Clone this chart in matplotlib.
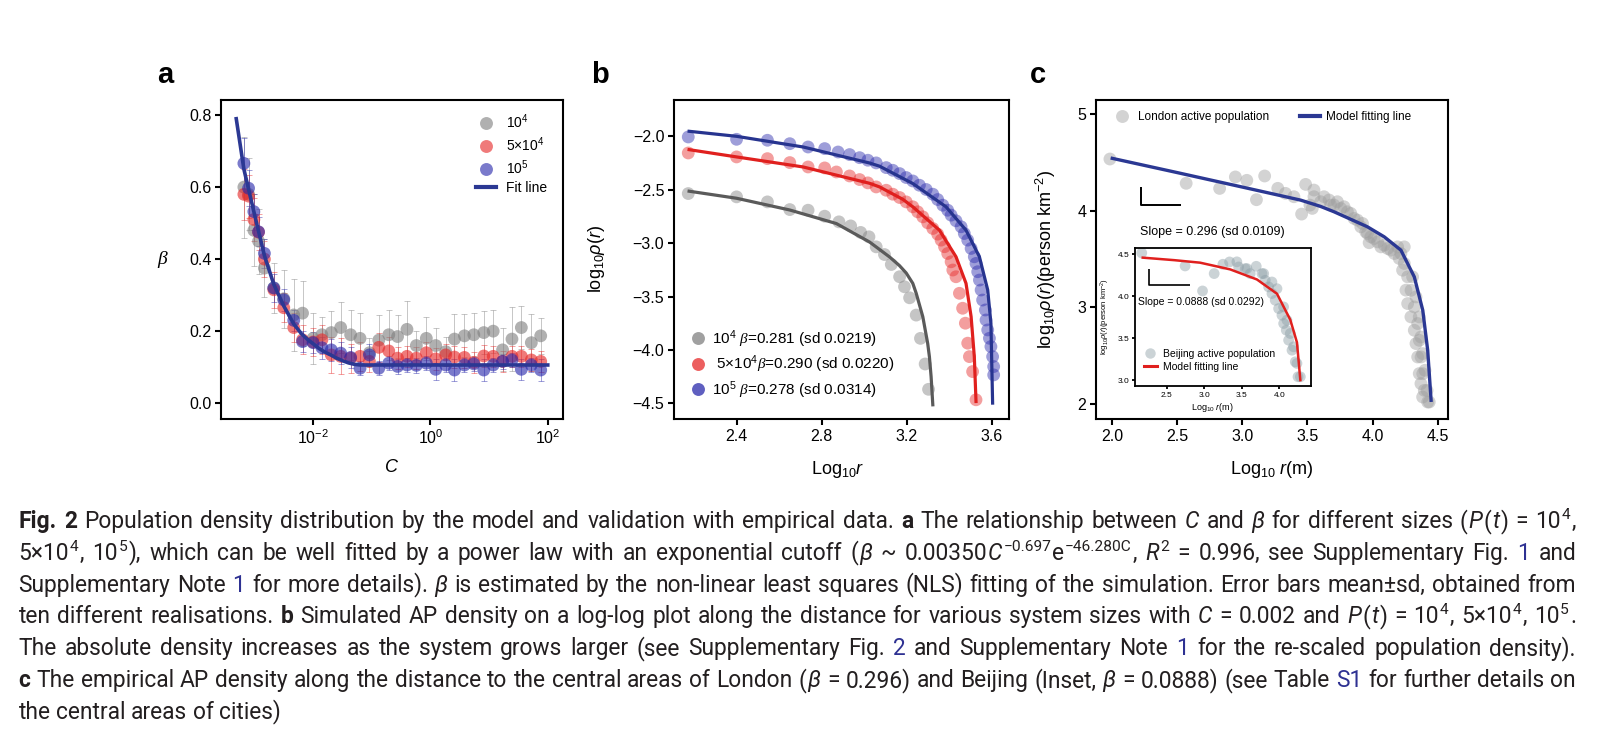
import re
import numpy as np
import matplotlib
matplotlib.use("Agg")
import matplotlib.pyplot as plt
from matplotlib.lines import Line2D
from matplotlib.ticker import NullLocator, FormatStrFormatter

plt.rcParams.update({
    'font.family': ['Liberation Sans', 'DejaVu Sans'],
    'mathtext.fontset': 'custom',
    'mathtext.rm': 'Liberation Sans',
    'mathtext.it': 'Liberation Sans:italic',
    'mathtext.bf': 'Liberation Sans:bold',
    'mathtext.cal': 'Liberation Serif:italic',
    'mathtext.fallback': 'stix',
    'axes.unicode_minus': True,
})

# ---------------- data: panel a ----------------
C_log10 = [-3.18, -3.10, -3.01, -2.93, -2.83, -2.67, -2.50, -2.33, -2.18, -2.00,
           -1.85, -1.69, -1.53, -1.36, -1.20, -1.04, -0.88, -0.71, -0.56, -0.40,
           -0.24, -0.07, 0.09, 0.26, 0.41, 0.58, 0.74, 0.91, 1.07, 1.23,
           1.39, 1.55, 1.72, 1.88]
beta_1e4 = [0.60, 0.58, 0.48, 0.45, 0.375, 0.32, 0.29, 0.245, 0.25, 0.18,
            0.19, 0.196, 0.21, 0.19, 0.18, 0.14, 0.175, 0.19, 0.185, 0.205,
            0.16, 0.18, 0.16, 0.143, 0.178, 0.187, 0.19, 0.196, 0.20, 0.148,
            0.178, 0.21, 0.168, 0.187]
sd_1e4 = [0.14, 0.10, 0.10, 0.09, 0.08, 0.07, 0.08, 0.10, 0.09, 0.07,
          0.05, 0.06, 0.07, 0.07, 0.07, 0.04, 0.07, 0.07, 0.06, 0.08,
          0.04, 0.06, 0.05, 0.04, 0.07, 0.06, 0.06, 0.06, 0.06, 0.06,
          0.09, 0.06, 0.08, 0.05]
beta_5e4 = [0.58, 0.575, 0.51, 0.475, 0.40, 0.315, 0.265, 0.21, 0.176, 0.17,
            0.176, 0.134, 0.13, 0.125, 0.13, 0.116, 0.155, 0.145, 0.125, 0.13,
            0.125, 0.14, 0.123, 0.134, 0.128, 0.127, 0.113, 0.131, 0.13, 0.116,
            0.13, 0.13, 0.12, 0.116]
sd_5e4 = [0.07, 0.06, 0.06, 0.05, 0.05, 0.05, 0.04, 0.04, 0.04, 0.04,
          0.04, 0.05, 0.05, 0.04, 0.04, 0.03, 0.04, 0.04, 0.03, 0.03,
          0.03, 0.03, 0.03, 0.03, 0.03, 0.03, 0.03, 0.03, 0.03, 0.03,
          0.03, 0.03, 0.03, 0.03]
beta_1e5 = [0.666, 0.597, 0.532, 0.476, 0.416, 0.32, 0.287, 0.23, 0.171, 0.168,
            0.154, 0.148, 0.139, 0.127, 0.097, 0.134, 0.097, 0.111, 0.102, 0.106,
            0.105, 0.111, 0.094, 0.106, 0.092, 0.106, 0.109, 0.092, 0.106, 0.116,
            0.12, 0.094, 0.106, 0.092]
sd_1e5 = [0.07, 0.05, 0.05, 0.04, 0.04, 0.04, 0.03, 0.03, 0.03, 0.03,
          0.03, 0.03, 0.03, 0.03, 0.02, 0.03, 0.02, 0.02, 0.02, 0.02,
          0.02, 0.02, 0.03, 0.02, 0.03, 0.02, 0.02, 0.03, 0.02, 0.02,
          0.02, 0.03, 0.02, 0.03]
fit_logC = [-3.31, -3.18, -3.00, -2.83, -2.67, -2.50, -2.33, -2.20, -2.10, -2.00,
            -1.90, -1.80, -1.70, -1.60, -1.50, -1.40, -1.30, -1.20, 2.00]
fit_beta = [0.79, 0.65, 0.525, 0.41, 0.33, 0.27, 0.22, 0.193, 0.178, 0.165,
            0.152, 0.142, 0.134, 0.125, 0.118, 0.112, 0.108, 0.106, 0.106]
a_labels = ['$10^4$', '5×10$^4$', '$10^5$', 'Fit line']

# ---------------- data: panel b ----------------
b_gray_x = [2.173, 2.400, 2.545, 2.650, 2.736, 2.814, 2.881, 2.936, 2.983, 3.022,
            3.056, 3.095, 3.127, 3.166, 3.189, 3.213, 3.244, 3.264, 3.286, 3.302]
b_gray_y = [-2.536, -2.567, -2.614, -2.686, -2.692, -2.748, -2.801, -2.839, -2.900, -2.941,
            -3.035, -3.107, -3.200, -3.315, -3.409, -3.512, -3.674, -3.892, -4.132, -4.369]
b_red_x = [2.173, 2.400, 2.545, 2.650, 2.736, 2.814, 2.869, 2.931, 2.978, 3.017,
           3.056, 3.103, 3.134, 3.166, 3.197, 3.228, 3.251, 3.275, 3.298, 3.322,
           3.345, 3.361, 3.377, 3.392, 3.408, 3.416, 3.431, 3.447, 3.462, 3.475,
           3.486, 3.494, 3.509, 3.525]
b_red_y = [-2.156, -2.193, -2.209, -2.246, -2.287, -2.296, -2.334, -2.371, -2.405, -2.436,
           -2.474, -2.505, -2.542, -2.573, -2.614, -2.660, -2.707, -2.754, -2.810, -2.863,
           -2.916, -2.972, -3.034, -3.097, -3.175, -3.252, -3.315, -3.470, -3.610, -3.750,
           -3.937, -4.063, -4.203, -4.467]
b_blue_x = [2.173, 2.400, 2.545, 2.650, 2.736, 2.814, 2.877, 2.931, 2.978, 3.017,
            3.056, 3.103, 3.134, 3.166, 3.197, 3.228, 3.259, 3.291, 3.322, 3.345,
            3.369, 3.392, 3.408, 3.431, 3.455, 3.470, 3.486, 3.502, 3.517, 3.525,
            3.533, 3.541, 3.549, 3.556, 3.569, 3.572, 3.580, 3.588, 3.595, 3.603,
            3.608, 3.608]
b_blue_y = [-2.006, -2.028, -2.037, -2.069, -2.100, -2.115, -2.147, -2.171, -2.200, -2.224,
            -2.249, -2.293, -2.318, -2.349, -2.386, -2.418, -2.458, -2.498, -2.542, -2.592,
            -2.645, -2.692, -2.738, -2.791, -2.847, -2.910, -2.972, -3.050, -3.128, -3.190,
            -3.268, -3.346, -3.439, -3.533, -3.626, -3.720, -3.813, -3.891, -3.969, -4.063,
            -4.156, -4.234]
b_gray_line_x = [2.177, 2.400, 2.650, 2.869, 3.025, 3.119, 3.165, 3.197, 3.228, 3.244,
                 3.275, 3.298, 3.306, 3.314, 3.322]
b_gray_line_y = [-2.514, -2.580, -2.690, -2.817, -2.990, -3.130, -3.210, -3.280, -3.377, -3.470,
                 -3.689, -3.940, -4.063, -4.250, -4.514]
b_red_line_x = [2.177, 2.400, 2.713, 3.025, 3.072, 3.181, 3.228, 3.353, 3.431, 3.478,
                3.502, 3.517, 3.525]
b_red_line_y = [-2.125, -2.193, -2.287, -2.440, -2.474, -2.590, -2.660, -2.879, -3.128, -3.377,
                -3.689, -4.063, -4.483]
b_blue_line_x = [2.177, 2.400, 2.713, 3.025, 3.072, 3.228, 3.384, 3.478, 3.541, 3.580,
                 3.595, 3.603]
b_blue_line_y = [-1.953, -2.000, -2.100, -2.250, -2.280, -2.442, -2.660, -2.879, -3.128, -3.439,
                 -3.750, -4.498]
b_labels = [r'$10^4$ $\mathcal{\beta}$=0.281 (sd 0.0219)',
            r' 5×10$^4$$\mathcal{\beta}$=0.290 (sd 0.0220)',
            r'$10^5$ $\mathcal{\beta}$=0.278 (sd 0.0314)']

# ---------------- data: panel c ----------------
lon_x = [1.982, 2.568, 2.825, 2.946, 3.034, 3.108, 3.171, 3.272, 3.331, 3.396,
         3.455, 3.486, 3.519, 3.537, 3.550, 3.550, 3.602, 3.627, 3.666, 3.678,
         3.704, 3.730, 3.756, 3.781, 3.807, 3.833, 3.858, 3.884, 3.910, 3.923,
         3.948, 3.961, 3.974, 3.987, 4.012, 4.039, 4.064, 4.090, 4.116, 4.141,
         4.167, 4.193, 4.205, 4.218, 4.231, 4.244, 4.244, 4.257, 4.270, 4.270,
         4.295, 4.296, 4.308, 4.321, 4.321, 4.334, 4.334, 4.347, 4.347, 4.359,
         4.359, 4.360, 4.372, 4.372, 4.373, 4.385, 4.385, 4.386, 4.398, 4.403,
         4.419, 4.424, 4.436]
lon_y = [4.536, 4.284, 4.231, 4.350, 4.315, 4.114, 4.360, 4.232, 4.180, 4.145,
         3.965, 4.273, 4.058, 4.024, 4.145, 4.214, 4.093, 4.145, 4.111, 4.058,
         4.058, 4.093, 4.023, 4.041, 3.989, 3.972, 3.920, 3.902, 3.833, 3.868,
         3.781, 3.764, 3.668, 3.729, 3.712, 3.677, 3.625, 3.643, 3.608, 3.591,
         3.556, 3.625, 3.505, 3.556, 3.383, 3.453, 3.625, 3.176, 3.314, 3.037,
         2.899, 3.175, 3.314, 3.002, 2.760, 3.106, 2.622, 2.830, 2.483, 2.899,
         2.311, 2.656, 2.690, 2.207, 2.483, 2.518, 2.068, 2.310, 2.137, 2.345,
         2.137, 2.016, 2.016]
lon_line_x = [2.0, 2.5, 3.0, 3.447, 3.60, 3.704, 3.961, 4.09, 4.218, 4.321, 4.386, 4.424, 4.45]
lon_line_y = [4.543, 4.395, 4.245, 4.11, 4.045, 3.989, 3.833, 3.729, 3.591, 3.314, 2.968, 2.552, 2.034]
bj_x = [2.167, 2.744, 2.976, 3.131, 3.247, 3.336, 3.433, 3.456, 3.544, 3.567,
        3.611, 3.691, 3.767, 3.790, 3.811, 3.856, 3.900, 3.900, 3.944, 3.967,
        3.989, 4.033, 4.055, 4.056, 4.091, 4.100, 4.122, 4.144, 4.167, 4.188,
        4.211, 4.233, 4.247, 4.278]
bj_y = [4.516, 4.361, 4.063, 4.270, 4.381, 4.409, 4.410, 4.349, 4.329, 4.330,
        4.270, 4.357, 4.270, 4.270, 4.190, 4.111, 4.170, 4.032, 3.952, 4.090,
        3.853, 3.774, 3.873, 3.675, 3.595, 3.714, 3.476, 3.556, 3.357, 3.397,
        3.218, 3.199, 3.040, 3.040]
bj_line_x = [2.18, 2.60, 2.944, 3.344, 3.70, 3.967, 4.144, 4.233, 4.278]
bj_line_y = [4.46, 4.43, 4.40, 4.32, 4.20, 4.03, 3.72, 3.45, 3.00]

caption_lines = [
    "**Fig.** **2** Population density distribution by the model and validation with empirical data. **a** The relationship between *C* and *β* for different sizes (*P*(*t*) = 10^{4},",
    "5×10^{4}, 10^{5}), which can be well fitted by a power law with an exponential cutoff (*β* ~ 0.00350*C*^{−0.697}e^{−46.280C}, *R*^{2} = 0.996, see Supplementary Fig. [1] and",
    "Supplementary Note [1] for more details). *β* is estimated by the non-linear least squares (NLS) fitting of the simulation. Error bars mean±sd, obtained from",
    "ten different realisations. **b** Simulated AP density on a log-log plot along the distance for various system sizes with *C* = 0.002 and *P*(*t*) = 10^{4}, 5×10^{4}, 10^{5}.",
    "The absolute density increases as the system grows larger (see Supplementary Fig. [2] and Supplementary Note [1] for the re-scaled population density).",
    "**c** The empirical AP density along the distance to the central areas of London (*β* = 0.296) and Beijing (Inset, *β* = 0.0888) (see Table [S1] for further details on",
    "the central areas of cities)",
]

# ---------------- figure ----------------
W, H = 1608, 736
fig = plt.figure(figsize=(W / 100, H / 100), dpi=100)


def axrect(l, t, r, b):
    return [l / W, 1 - b / H, (r - l) / W, (b - t) / H]


def style(ax, fs=11.5, lw=1.5, tl=4):
    for s in ax.spines.values():
        s.set_linewidth(lw)
    ax.tick_params(direction='out', length=tl, width=lw, labelsize=fs, pad=3, colors='black')


GRAY = (0.50, 0.50, 0.50)
RED = (0.90, 0.16, 0.16)
BLUE = (0.16, 0.16, 0.67)
FITBLUE = '#2b3893'
MS = 85

# ---- panel a ----
axA = fig.add_axes(axrect(221, 100, 563, 419))
style(axA)
C = 10 ** np.array(C_log10)
for beta, sd, col in [(beta_1e4, sd_1e4, GRAY), (beta_5e4, sd_5e4, RED), (beta_1e5, sd_1e5, BLUE)]:
    axA.errorbar(C, beta, yerr=sd, fmt='none', ecolor=col, elinewidth=0.7, capsize=2,
                 capthick=0.7, alpha=0.45, zorder=2)
for beta, col in [(beta_1e4, GRAY), (beta_5e4, RED), (beta_1e5, BLUE)]:
    axA.scatter(C, beta, s=MS, color=col, alpha=0.62, edgecolors='none', zorder=3)
axA.plot(10 ** np.array(fit_logC), fit_beta, color=FITBLUE, lw=2.6, zorder=4)
axA.set_xscale('log')
axA.set_xlim(10 ** -3.57, 10 ** 2.26)
axA.set_ylim(-0.044, 0.842)
axA.set_xticks([1e-2, 1e0, 1e2])
axA.xaxis.set_minor_locator(NullLocator())
axA.set_yticks([0.0, 0.2, 0.4, 0.6, 0.8])
axA.yaxis.set_major_formatter(FormatStrFormatter('%.1f'))
axA.set_xlabel('$C$', fontsize=13)
axA.xaxis.set_label_coords(0.5, -0.125)
axA.set_ylabel(r'$\mathcal{\beta}$', fontsize=14, rotation=0, va='center', ha='center')
axA.yaxis.set_label_coords(-0.17, 0.5)
hA = [Line2D([], [], ls='', marker='o', ms=9.3, mfc=c, mec='none', alpha=0.62) for c in (GRAY, RED, BLUE)]
hA.append(Line2D([], [], color=FITBLUE, lw=3))
axA.legend(hA, a_labels, loc='upper left', bbox_to_anchor=(0.745, 0.962), frameon=False,
           fontsize=10, borderpad=0, handlelength=1.45, handletextpad=0.7, labelspacing=0.32,
           borderaxespad=0)

# ---- panel b ----
axB = fig.add_axes(axrect(674, 100, 1009, 419))
style(axB)
BA = 0.45
axB.scatter(b_gray_x, b_gray_y, s=MS, color=GRAY, alpha=BA, edgecolors='none', zorder=2)
axB.scatter(b_red_x, b_red_y, s=MS, color=RED, alpha=BA, edgecolors='none', zorder=2)
axB.scatter(b_blue_x, b_blue_y, s=MS, color=BLUE, alpha=BA, edgecolors='none', zorder=2)
axB.plot(b_gray_line_x, b_gray_line_y, color='#5a5a5a', lw=2.3, zorder=3)
axB.plot(b_red_line_x, b_red_line_y, color='#e0201e', lw=2.3, zorder=3)
axB.plot(b_blue_line_x, b_blue_line_y, color='#27348f', lw=2.3, zorder=3)
axB.set_xlim(2.106, 3.68)
axB.set_ylim(-4.647, -1.66)
axB.set_xticks([2.4, 2.8, 3.2, 3.6])
axB.set_yticks([-4.5, -4.0, -3.5, -3.0, -2.5, -2.0])
axB.set_xlabel(r'Log$_{10}r$', fontsize=13)
axB.xaxis.set_label_coords(0.49, -0.125)
axB.set_ylabel(r'log$_{10}\rho(r)$', fontsize=13)
axB.yaxis.set_label_coords(-0.2, 0.5)
hB = [Line2D([], [], ls='', marker='o', ms=9.3, mfc=c, mec='none', alpha=0.75) for c in (GRAY, RED, BLUE)]
axB.legend(hB, b_labels, loc='upper left', bbox_to_anchor=(0.05, 0.285), frameon=False,
           fontsize=11, borderpad=0, handlelength=1.0, handletextpad=0.4, labelspacing=0.25,
           borderaxespad=0)

# ---- panel c ----
axC = fig.add_axes(axrect(1096, 100, 1448, 419))
style(axC)
axC.scatter(lon_x, lon_y, s=MS, color=(0.62, 0.62, 0.62), alpha=0.45, edgecolors='none', zorder=2)
axC.plot(lon_line_x, lon_line_y, color=FITBLUE, lw=2.4, zorder=3)
axC.set_xlim(1.875, 4.58)
axC.set_ylim(1.84, 5.148)
axC.set_xticks([2.0, 2.5, 3.0, 3.5, 4.0, 4.5])
axC.set_yticks([2, 3, 4, 5])
axC.set_xlabel(r'Log$_{10}$ $r$(m)', fontsize=13)
axC.xaxis.set_label_coords(0.5, -0.125)
axC.set_ylabel(r'log$_{10}\rho(r)$(person km$^{-2}$)', fontsize=13)
axC.yaxis.set_label_coords(-0.108, 0.5)
hC = [Line2D([], [], ls='', marker='o', ms=9.3, mfc=(0.62, 0.62, 0.62), mec='none', alpha=0.45),
      Line2D([], [], color=FITBLUE, lw=3)]
axC.legend(hC, ['London active population', 'Model fitting line'], loc='upper left', ncol=2,
           bbox_to_anchor=(0.045, 0.965), frameon=False, fontsize=8.5, borderpad=0,
           handlelength=1.7, handletextpad=0.5, columnspacing=2.6, borderaxespad=0)
axC.plot([0.127, 0.127, 0.241], [0.728, 0.671, 0.671], transform=axC.transAxes,
         color='black', lw=1.4, solid_capstyle='butt', zorder=5)
axC.text(0.125, 0.586, 'Slope = 0.296 (sd 0.0109)', transform=axC.transAxes, fontsize=9,
         va='center', ha='left')

# ---- inset ----
axI = fig.add_axes(axrect(1135, 248, 1311, 386))
style(axI, fs=6, lw=1.3, tl=2.2)
axI.tick_params(pad=2)
axI.scatter(bj_x, bj_y, s=60, color=(0.55, 0.62, 0.65), alpha=0.45, edgecolors='none', zorder=2)
axI.plot(bj_line_x, bj_line_y, color='#e0201e', lw=1.8, zorder=3)
axI.set_xlim(2.077, 4.42)
axI.set_ylim(2.93, 4.575)
axI.set_xticks([2.5, 3.0, 3.5, 4.0])
axI.set_yticks([3.0, 3.5, 4.0, 4.5])
axI.set_xlabel(r'Log$_{10}$ $r$(m)', fontsize=6.5)
axI.xaxis.set_label_coords(0.44, -0.11)
axI.set_ylabel(r'log$_{10}\rho(r)$(person km$^{-2}$)', fontsize=5.5)
axI.yaxis.set_label_coords(-0.13, 0.5)
hI = [Line2D([], [], ls='', marker='o', ms=7.5, mfc=(0.55, 0.62, 0.65), mec='none', alpha=0.45),
      Line2D([], [], color='#e0201e', lw=2.2)]
axI.legend(hI, ['Beijing active population', 'Model fitting line'], loc='upper left',
           bbox_to_anchor=(0.05, 0.27), frameon=False, fontsize=7.5, borderpad=0,
           handlelength=1.25, handletextpad=0.6, labelspacing=0.3, borderaxespad=0)
axI.plot([0.08, 0.08, 0.3125], [0.851, 0.73, 0.73], transform=axI.transAxes,
         color='black', lw=1.2, solid_capstyle='butt', zorder=5)
axI.text(0.015, 0.607, 'Slope = 0.0888 (sd 0.0292)', transform=axI.transAxes, fontsize=7.5,
         va='center', ha='left')

# ---- panel letters ----
for x, s in [(157, 'a'), (591, 'b'), (1030, 'c')]:
    fig.text(x / W, 1 - 83 / H, s, fontsize=21, fontweight='bold', va='baseline', ha='left')

# ---------------- caption ----------------
CAP_FAMILY = ['Roboto', 'DejaVu Sans']
renderer = fig.canvas.get_renderer()
piece_re = re.compile(r'(\*\*.+?\*\*|\*.+?\*|\^\{.+?\}|\[.+?\])')


def parse_token(tok):
    out = []
    for p in piece_re.split(tok):
        if not p:
            continue
        if p.startswith('**'):
            out.append((p[2:-2], 'b'))
        elif p.startswith('*') and len(p) > 2 and p.endswith('*'):
            out.append((p[1:-1], 'i'))
        elif p.startswith('^{'):
            out.append((p[2:-1], 's'))
        elif p.startswith('[') and p.endswith(']'):
            out.append((p[1:-1], 'l'))
        else:
            out.append((p, 'n'))
    return out


def props(st, fs):
    d = dict(family=CAP_FAMILY, fontsize=fs, color='#231f20')
    if st == 'b':
        d['fontweight'] = 'bold'
    if st == 'i':
        d['fontstyle'] = 'italic'
    if st == 's':
        d['fontsize'] = fs * 0.68
    if st == 'l':
        d['color'] = '#2e3192'
    return d


def wid(s, p):
    t = fig.text(0, 0, s, **p)
    w = t.get_window_extent(renderer).width
    t.remove()
    return w


def measure(fs):
    res = []
    for line in caption_lines:
        toks = [parse_token(t) for t in line.split(' ')]
        tw = []
        for tok in toks:
            ws = [wid(s, props(st, fs)) for s, st in tok]
            tw.append(ws)
        res.append((toks, tw))
    space = wid('a a', props('n', fs)) - wid('aa', props('n', fs))
    return res, space


X0, X1 = 18.5, 1576.0
TARGET = X1 - X0
inner = 1.0


def natural(tw, sp):
    tot = 0
    for ws in tw:
        tot += sum(ws) + inner * (len(ws) - 1)
    return tot + sp * (len(tw) - 1)


fs0 = 14.5
res, space = measure(fs0)
mx = max(natural(w, space) for t, w in res[:6])
fs = min(17.0, max(12.0, fs0 * TARGET * 0.99 / mx))
res, space = measure(fs)

base0 = 528.0
lead = 31.8
for li, (toks, tw) in enumerate(res):
    base = base0 + li * lead
    tokw = [sum(ws) + inner * (len(ws) - 1) for ws in tw]
    if li < 6 and len(toks) > 1:
        gap = (TARGET - sum(tokw)) / (len(toks) - 1)
    else:
        gap = space
    x = X0
    for tok, ws in zip(toks, tw):
        xx = x
        for (s, st), w in zip(tok, ws):
            raise_px = fs * 0.40 * 100 / 72 if st == 's' else 0
            fig.text(xx / W, 1 - (base - raise_px) / H, s, va='baseline', ha='left', **props(st, fs))
            xx += w + inner
        x += sum(ws) + inner * (len(ws) - 1) + gap

fig.savefig('out.png', dpi=100)
